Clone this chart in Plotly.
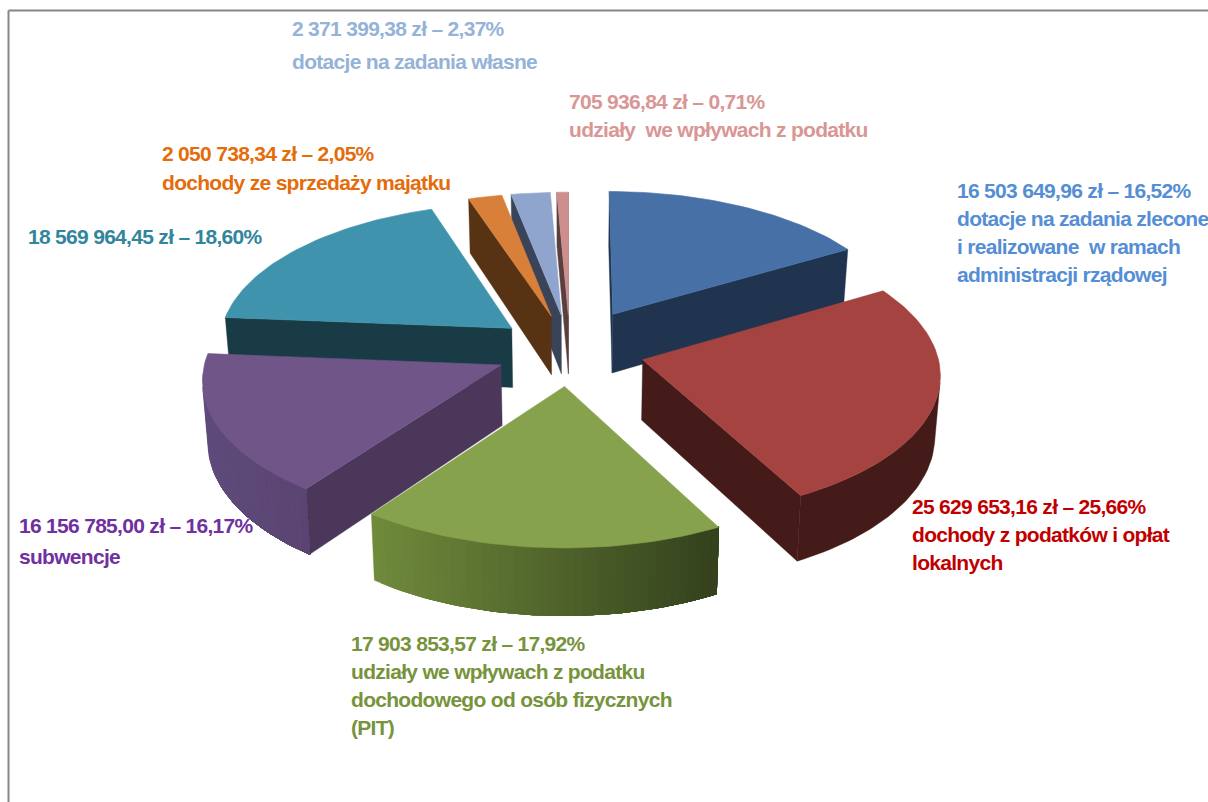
import numpy as np
import plotly.graph_objects as go

# ---- data ----
values = [16503649.96, 25629653.16, 17903853.57, 16156785.00,
          18569964.45, 2050738.34, 2371399.38, 705936.84]
amounts = ["16 503 649,96 zł – 16,52%", "25 629 653,16 zł – 25,66%", "17 903 853,57 zł – 17,92%",
           "16 156 785,00 zł – 16,17%", "18 569 964,45 zł – 18,60%", "2 050 738,34 zł – 2,05%",
           "2 371 399,38 zł – 2,37%", "705 936,84 zł – 0,71%"]
names = ["dotacje na zadania zlecone<br>i realizowane  w ramach<br>administracji rządowej",
         "dochody z podatków i opłat<br>lokalnych",
         "udziały we wpływach z podatku<br>dochodowego od osób fizycznych<br>(PIT)",
         "subwencje", "", "dochody ze sprzedaży majątku",
         "dotacje na zadania własne", "udziały  we wpływach z podatku"]
explode = [0.30, 0.255, 0.255, 0.255, 0.255, 0.255, 0.255, 0.255]
top_colors = ["#4670a6", "#a54341", "#87a24c", "#705589", "#4093ac", "#d8803a", "#90a5cd", "#cf8e8e"]
side_colors = ["#20344f", "#451b19", "#35421d", "#4a3759", "#183b45", "#573314", "#3a4458", "#5a3f3f"]
outer_left = ["#20344f", "#451b19", "#6f8a3b", "#5f4b7c", "#183b45", "#573314", "#3a4458", "#5a3f3f"]
outer_right = ["#20344f", "#451b19", "#33401c", "#5a4470", "#183b45", "#573314", "#3a4458", "#5a3f3f"]
text_colors = ["#558ed5", "#c00000", "#77933c", "#7030a0", "#31859c", "#e46c0a", "#95b3d7", "#d99694"]
label_x = [957, 912, 351, 19, 28, 162, 292, 569]
label_y = [190, 506, 643, 525, 236, 153, 28, 101]
line_h = [28, 28, 28, 31, 28, 29, 33, 28]

# ---- pie camera ----
CX, CY, AX, BY, K, DEPTH, BOTTOM_SHRINK, START = 570, 350, 294, 140, 0.09, 60, 0.985, 0.0


def proj(x, y, bottom=False):
    s = 1 / (1 + K * y)
    sx, sy = AX * x * s, -BY * y * s
    if bottom:
        sx, sy = sx * BOTTOM_SHRINK, sy + DEPTH * s
    return CX + sx, CY + sy


def mix(c1, c2, t):
    a = [int(c1[i:i + 2], 16) for i in (1, 3, 5)]
    b = [int(c2[i:i + 2], 16) for i in (1, 3, 5)]
    return "#%02x%02x%02x" % tuple(round(u + (v - u) * t) for u, v in zip(a, b))


fig = go.Figure()


def poly(xs, ys, color, lw=0.6):
    fig.add_trace(go.Scatter(x=list(xs) + [xs[0]], y=list(ys) + [ys[0]], mode="lines", fill="toself",
                             fillcolor=color, line=dict(color=color, width=lw),
                             hoverinfo="skip", showlegend=False))


def faces_viewer(p1, p2):
    a, b = proj(*p1), proj(*p2)
    c = proj(*p2, True)
    return (b[0] - a[0]) * (c[1] - a[1]) - (b[1] - a[1]) * (c[0] - a[0]) < 0


def strip(points, color):
    """Wall hanging under a chain of world points."""
    tops = [proj(*p) for p in points]
    bots = [proj(*p, True) for p in reversed(points)]
    pts = tops + bots
    poly([p[0] for p in pts], [p[1] for p in pts], color, 0.4)


total = sum(values)
angles = np.radians(START + np.concatenate([[0], np.cumsum(values)]) / total * 360)
order = [4, 0, 7, 6, 5, 1, 3, 2]  # far slices first

for i in order:
    t0, t1 = angles[i], angles[i + 1]
    tm = (t0 + t1) / 2
    ox, oy = explode[i] * np.sin(tm), explode[i] * np.cos(tm)
    th = np.linspace(t0, t1, max(4, int((t1 - t0) * 40)))
    rim = [(ox + np.sin(t), oy + np.cos(t)) for t in th]
    apex = (ox, oy)
    # radial walls (rim is clockwise seen from above)
    if faces_viewer(apex, rim[0]):
        strip([apex, rim[0]], side_colors[i])
    if faces_viewer(rim[-1], apex):
        strip([rim[-1], apex], side_colors[i])
    # outer wall: later bands overlap earlier ones so that no seams show
    front = [k for k in range(len(rim) - 1) if faces_viewer(rim[k], rim[k + 1])]
    if front:
        first, last = front[0], front[-1] + 1
        if outer_left[i] == outer_right[i]:
            strip(rim[first:last + 1], outer_left[i])
        else:
            xs_all = [proj(*p)[0] for p in rim]
            lo, hi = min(xs_all), max(xs_all)
            # walk the rim from its left end on screen to its right end
            idx = list(range(first, last + 1))
            if proj(*rim[idx[0]])[0] > proj(*rim[idx[-1]])[0]:
                idx.reverse()
            for n in range(len(idx) - 1):
                f = (proj(*rim[idx[n]])[0] - lo) / max(hi - lo, 1)
                strip([rim[k] for k in idx[n:]], mix(outer_left[i], outer_right[i], f))
    # top face
    pts = [proj(*apex)] + [proj(*p) for p in rim]
    poly([p[0] for p in pts], [p[1] for p in pts], top_colors[i])

# ---- labels ----
FONT = "Liberation Sans, Arial, sans-serif"
for i in range(len(values)):
    lines = [amounts[i]] + (names[i].split("<br>") if names[i] else [])
    for j, txt in enumerate(lines):
        fig.add_annotation(x=label_x[i], y=label_y[i] + j * line_h[i],
                           text='<span style="letter-spacing:-0.7px"><b>%s</b></span>' % txt, showarrow=False,
                           xanchor="left", yanchor="middle", xref="x", yref="y", align="left",
                           xshift=-2, font=dict(family=FONT, size=21, color=text_colors[i]))

# ---- frame ----
FRAME = "#868686"
fig.add_shape(type="line", xref="paper", yref="paper", x0=8.5 / 1208, x1=8.5 / 1208, y0=0, y1=1 - 10.5 / 802,
              line=dict(color=FRAME, width=2))
fig.add_shape(type="line", xref="paper", yref="paper", x0=8.5 / 1208, x1=1, y0=1 - 10.5 / 802, y1=1 - 10.5 / 802,
              line=dict(color=FRAME, width=2))

fig.update_layout(width=1208, height=802, margin=dict(l=0, r=0, t=0, b=0), paper_bgcolor="white",
                  plot_bgcolor="white", showlegend=False,
                  xaxis=dict(range=[0, 1208], visible=False, fixedrange=True),
                  yaxis=dict(range=[802, 0], visible=False, fixedrange=True))
fig.write_html("out.html", config=dict(displayModeBar=False),
               post_script="document.body.style.margin='0';document.documentElement.style.overflow='hidden';")
